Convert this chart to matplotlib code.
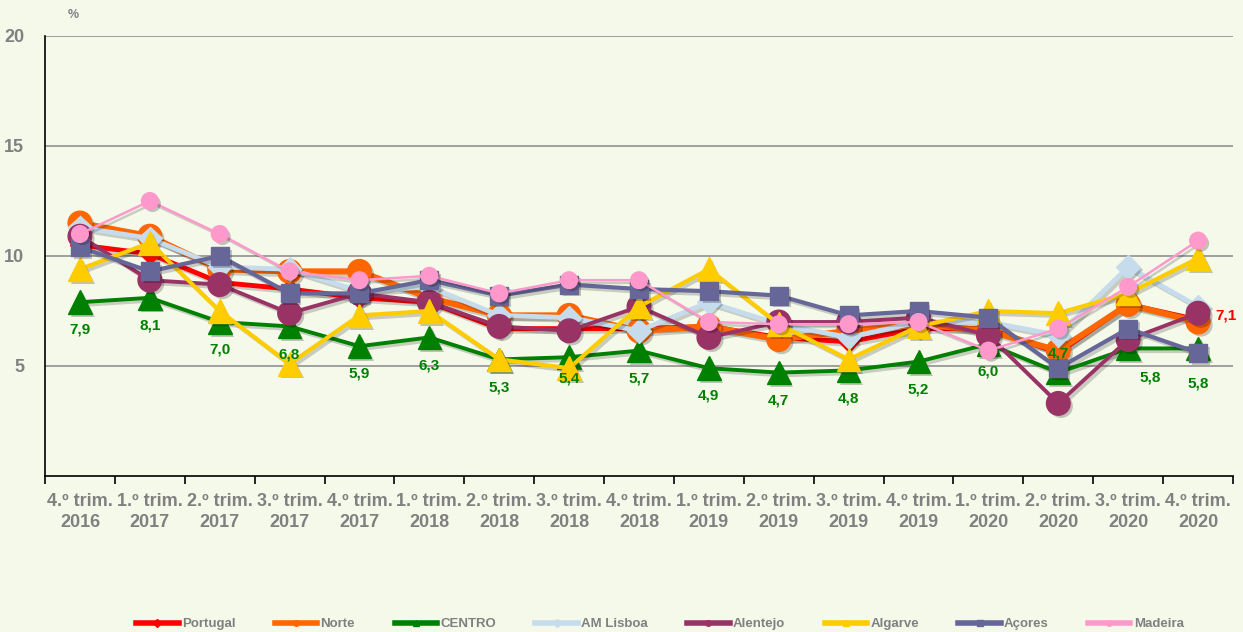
import matplotlib
matplotlib.use("Agg")
import matplotlib.pyplot as plt
import matplotlib.patheffects as pe
from matplotlib.lines import Line2D
import numpy as np

# Taxa de desemprego por região (%), trimestral
trimestres = ["4.º trim.\n2016", "1.º trim.\n2017", "2.º trim.\n2017", "3.º trim.\n2017",
              "4.º trim.\n2017", "1.º trim.\n2018", "2.º trim.\n2018", "3.º trim.\n2018",
              "4.º trim.\n2018", "1.º trim.\n2019", "2.º trim.\n2019", "3.º trim.\n2019",
              "4.º trim.\n2019", "1.º trim.\n2020", "2.º trim.\n2020", "3.º trim.\n2020",
              "4.º trim.\n2020"]

portugal  = [10.5, 10.1, 8.8, 8.5, 8.1, 7.9, 6.7, 6.7, 6.7, 6.8, 6.3, 6.1, 6.7, 6.7, 5.6, 7.8, 7.1]
norte     = [11.5, 10.9, 9.4, 9.3, 9.3, 8.1, 7.3, 7.3, 6.6, 6.8, 6.2, 6.6, 6.9, 6.6, 5.7, 7.8, 7.0]
centro    = [7.9, 8.1, 7.0, 6.8, 5.9, 6.3, 5.3, 5.4, 5.7, 4.9, 4.7, 4.8, 5.2, 6.0, 4.7, 5.8, 5.8]
am_lisboa = [11.3, 10.8, 9.5, 9.4, 8.4, 8.6, 7.3, 7.2, 6.6, 7.9, 6.9, 6.3, 7.0, 7.0, 6.4, 9.5, 7.7]
alentejo  = [10.9, 8.9, 8.7, 7.4, 8.3, 7.9, 6.8, 6.6, 7.7, 6.3, 7.0, 7.0, 7.2, 6.4, 3.3, 6.2, 7.4]
algarve   = [9.4, 10.6, 7.5, 5.1, 7.3, 7.5, 5.3, 4.9, 7.7, 9.4, 6.9, 5.3, 6.8, 7.5, 7.4, 8.3, 9.9]
acores    = [10.4, 9.3, 10.0, 8.3, 8.3, 8.9, 8.2, 8.7, 8.5, 8.4, 8.2, 7.3, 7.5, 7.2, 4.9, 6.7, 5.6]
madeira   = [11.0, 12.5, 11.0, 9.3, 8.9, 9.1, 8.3, 8.9, 8.9, 7.0, 6.9, 6.9, 7.0, 5.7, 6.7, 8.6, 10.7]

series = [
    # nome, valores, cor, marcador, espessura, tamanho do marcador
    ("Portugal",  portugal,  "#FF0000", "D", 3.5, 10),
    ("Norte",     norte,     "#FF6600", "o", 4.4, 17),
    ("CENTRO",    centro,    "#008000", "^", 2.8, 17),
    ("AM Lisboa", am_lisboa, "#C6DCEC", "D", 3.5, 12),
    ("Alentejo",  alentejo,  "#993366", "o", 2.8, 17),
    ("Algarve",   algarve,   "#FFCC00", "^", 3.0, 17),
    ("Açores",    acores,    "#666699", "s", 3.0, 13),
    ("Madeira",   madeira,   "#FF99CC", "o", 1.8, 12),
]

bg = "#F5F9EA"
cinza = "#808080"
fonte = ["Liberation Sans", "DejaVu Sans"]
plt.rcParams["font.family"] = fonte

fig = plt.figure(figsize=(12.43, 6.32), dpi=100, facecolor=bg)
ax = fig.add_axes([45 / 1243, 1 - 476 / 632, 1188 / 1243, 440 / 632])
ax.set_facecolor(bg)

x = np.arange(len(trimestres))
handles = []
for i, (nome, vals, cor, mk, lw, ms) in enumerate(series):
    z = 3 + i * 2
    ax.plot(x, vals, color=cor, lw=lw, zorder=z, solid_joinstyle="miter",
            path_effects=[pe.SimpleLineShadow(offset=(2, -2), alpha=0.18, shadow_color="k"),
                          pe.Normal()])
    ax.plot(x, vals, ls="none", marker=mk, ms=ms, color=cor, mec=cor, zorder=z + 1,
            path_effects=[pe.SimplePatchShadow(offset=(2, -2), alpha=0.22, shadow_rgbFace="k"),
                          pe.Normal()])
    handles.append(Line2D([], [], color=cor, lw=4, marker=mk, ms=4, mec=cor, label=nome))

# valores da região Centro
desvios = {7: (0, -15), 14: (0, 14), 15: (16, -21), 16: (0, -25)}
for i, v in enumerate(centro):
    dx, dy = desvios.get(i, (0, -20))
    ax.annotate(f"{v:.1f}".replace(".", ","), (x[i], v), xytext=(dx, dy),
                textcoords="offset points", ha="center", va="center",
                fontsize=11, fontweight="bold", color="#008000", zorder=30)

ax.annotate(f"{portugal[-1]:.1f}".replace(".", ","), (x[-1], portugal[-1]), xytext=(20, 3),
            textcoords="offset points", ha="center", va="center",
            fontsize=11, fontweight="bold", color="#FF0000", zorder=30,
            annotation_clip=False)

ax.set_xlim(-0.5, len(trimestres) - 0.5)
ax.set_ylim(0, 20)
ax.set_yticks([5, 10, 15, 20])
ax.set_yticklabels(["5", "10", "15", "20"])
ax.tick_params(axis="y", length=0, pad=15, labelsize=13, labelcolor=cinza)
for lbl in ax.get_yticklabels():
    lbl.set_fontweight("bold")
ax.yaxis.grid(True, color="#999999", lw=1.3, zorder=1)
ax.set_axisbelow(True)

ax.set_xticks(x)
ax.set_xticklabels(trimestres, fontsize=13, fontweight="bold", color=cinza, linespacing=1.3)
ax.tick_params(axis="x", length=0, pad=12)
ax.set_xticks(np.arange(-0.5, len(trimestres)), minor=True)
ax.tick_params(axis="x", which="minor", length=6, width=1.2, direction="out", color="black")

for s in ["top", "right"]:
    ax.spines[s].set_visible(False)
for s in ["left", "bottom"]:
    ax.spines[s].set_color("black")
    ax.spines[s].set_linewidth(1.2)

fig.text(73 / 1243, 1 - 15 / 632, "%", fontsize=9, fontweight="bold", color=cinza,
         ha="center", va="center")

leg = fig.legend(handles=handles, loc="center", bbox_to_anchor=(0.531, 8 / 632), ncol=8,
                 frameon=False, fontsize=9.5, handlelength=3.2, handletextpad=0.25,
                 columnspacing=3.0, borderaxespad=0)
for t in leg.get_texts():
    t.set_color(cinza)
    t.set_fontweight("bold")

fig.savefig("out.png", dpi=100, facecolor=bg)
